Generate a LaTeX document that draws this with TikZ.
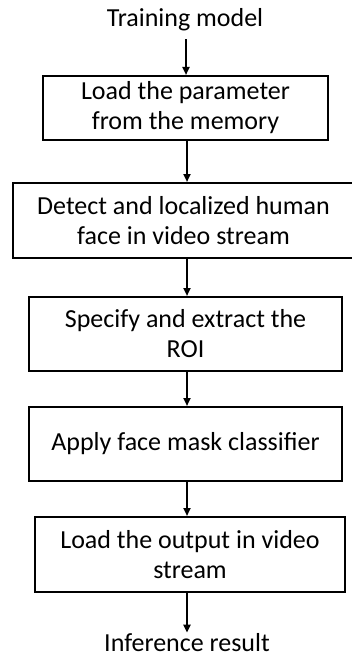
\documentclass[tikz,border=0pt]{standalone}
\usepackage{fontspec}
\setmainfont{Carlito}
\usepackage{tikz}
\usetikzlibrary{arrows.meta}

\begin{document}
\begin{tikzpicture}[x=1pt,y=-1pt,
    box/.style={draw=black,line width=2pt,align=center,inner sep=0pt,
      font=\fontsize{26}{30}\selectfont},
    flow/.style={line width=2pt,-{Triangle[length=8pt,width=7pt]}}]

      \useasboundingbox (0,0) rectangle (351,658);

      \node[font=\fontsize{26}{30}\selectfont,inner sep=1pt] (t) at (185,20){Training model};
      \node[box,minimum width=285,minimum height=64] (a) at (185.5,108){Load the parameter\\from the memory};
      \node[box,minimum width=342,minimum height=75] (b) at (183.5,220.5){Detect and localized human\\face in video stream};
      \node[box,minimum width=313,minimum height=74] (c) at (185.5,334){Specify and extract the\\ROI};
      \node[box,minimum width=313,minimum height=74] (d) at (185.5,444){Apply face mask classifier};
      \node[box,minimum width=310,minimum height=75] (e) at (190,554.5){Load the output in video\\stream};
      \node[font=\fontsize{26}{30}\selectfont,inner sep=1pt] (r) at (187,643){Inference result};

      \draw[flow,shorten <=7pt] (t.south -| 186,0) -- (a.north -| 186,0);
      \draw[flow] (a.south -| 187,0) -- (b.north -| 187,0);
      \draw[flow] (b.south -| 187,0) -- (c.north -| 187,0);
      \draw[flow] (c.south -| 187,0) -- (d.north -| 187,0);
      \draw[flow] (d.south -| 187,0) -- (e.north -| 187,0);
      \draw[flow] (e.south -| 187,0) -- (r.north -| 187,0);
    \end{tikzpicture}
\end{document}
